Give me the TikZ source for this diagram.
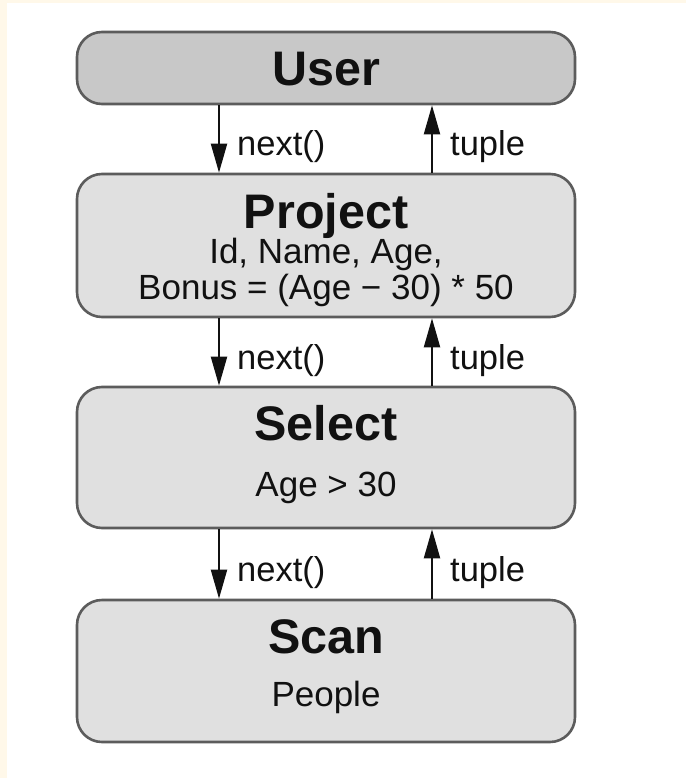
\documentclass[tikz,border=0pt]{standalone}
\usepackage{fontspec}
\setmainfont{Liberation Sans}
\usetikzlibrary{arrows.meta}

\definecolor{cream}{HTML}{FFF8E9}
\definecolor{edge}{HTML}{5C5C5C}
\definecolor{headfill}{HTML}{C8C8C8}
\definecolor{opfill}{HTML}{E0E0E0}
\definecolor{ink}{HTML}{111111}

\tikzset{
  opbox/.style={draw=edge, line width=2.6pt, rounded corners=25pt,
    minimum width=498pt, inner sep=0pt, fill=opfill},
  optitle/.style={anchor=base, inner sep=0pt, text=ink,
    font=\fontsize{48.5}{50}\selectfont\bfseries},
  opdetail/.style={anchor=base, inner sep=0pt, text=ink,
    font=\fontsize{35}{36}\selectfont},
  flowlabel/.style={anchor=base west, inner sep=0pt, text=ink,
    font=\fontsize{34.5}{36}\selectfont},
  flow/.style={draw=ink, line width=2pt,
    -{Triangle[length=29pt,width=16pt]}}
}

\begin{document}
\begin{tikzpicture}[x=1pt,y=-1pt]
  % page with a thin cream edge on top and left
  \useasboundingbox (0,0) rectangle (686,778);
  \fill[cream] (0,0) rectangle (686,778);
  \fill[white] (7,3) rectangle (686,778);

  % operator boxes
  \node[opbox, fill=headfill, minimum height=72pt]  (user) at (326,68)    {};
  \node[opbox, minimum height=143pt] (proj) at (326,245.5) {};
  \node[opbox, minimum height=141pt] (sel)  at (326,457.5) {};
  \node[opbox, minimum height=142pt] (scan) at (326,671)   {};

  % box texts
  \node[optitle]  (userT) at (326,86)  {User};
  \node[optitle]  (projT) at (326,228) {Project};
  \node[opdetail] (projA) at (326,263) {Id, Name, Age,};
  \node[opdetail] (projB) at (326,299) {Bonus = (Age − 30) * 50};
  \node[optitle]  (selT)  at (326,440) {Select};
  \node[opdetail] (selA)  at (326,496) {Age > 30};
  \node[optitle]  (scanT) at (326,653) {Scan};
  \node[opdetail] (scanA) at (326,706) {People};

  % columns of the call and return arrows
  \coordinate (dn) at (219,0);
  \coordinate (up) at (432,0);

  % next() calls go down, tuples come back up
  \draw[flow] (user.south -| dn) -- (proj.north -| dn);
  \draw[flow] (proj.north -| up) -- (user.south -| up);
  \draw[flow] (proj.south -| dn) -- (sel.north -| dn);
  \draw[flow] (sel.north -| up)  -- (proj.south -| up);
  \draw[flow] (sel.south -| dn)  -- (scan.north -| dn);
  \draw[flow] (scan.north -| up) -- (sel.south -| up);

  \node[flowlabel] (n1) at (237,156) {next()};
  \node[flowlabel] (t1) at (450,156) {tuple};
  \node[flowlabel] (n2) at (237,369) {next()};
  \node[flowlabel] (t2) at (450,369) {tuple};
  \node[flowlabel] (n3) at (237,581) {next()};
  \node[flowlabel] (t3) at (450,581) {tuple};
\end{tikzpicture}
\end{document}
